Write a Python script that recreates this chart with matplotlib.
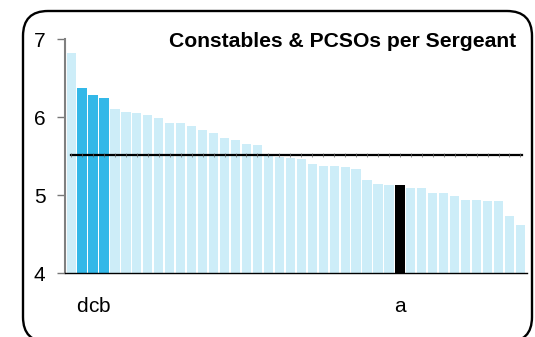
import matplotlib.pyplot as plt
from matplotlib.patches import FancyBboxPatch

plt.rcParams['font.family'] = ['Liberation Sans', 'DejaVu Sans']

# Constables & PCSOs per sergeant, sorted by force
values = [6.82, 6.37, 6.28, 6.24, 6.11, 6.06, 6.05, 6.03, 5.99, 5.93,
          5.92, 5.89, 5.84, 5.80, 5.73, 5.71, 5.65, 5.64, 5.51, 5.49,
          5.48, 5.46, 5.40, 5.37, 5.37, 5.36, 5.33, 5.20, 5.14, 5.13,
          5.13, 5.09, 5.09, 5.03, 5.03, 4.99, 4.94, 4.94, 4.92, 4.92,
          4.73, 4.62]
highlight = {1: 'd', 2: 'c', 3: 'b'}   # comparison forces
own_force = {30: 'a'}                  # our force
average = 5.52

light = '#cdedf8'
mid = '#33b8e8'

colors = []
for i in range(len(values)):
    if i in highlight:
        colors.append(mid)
    elif i in own_force:
        colors.append('black')
    else:
        colors.append(light)

fig = plt.figure(figsize=(5.35, 3.37), dpi=100)
ax = fig.add_axes([0.1215, 0.189, 0.8636, 0.695])

x = list(range(len(values)))
ax.bar(x, values, width=0.84, color=colors, zorder=2)
ax.plot([x[0], x[-1] + 0.1], [average, average], color='black', lw=1.6, zorder=3)
ax.plot(x, [average] * len(x), ls='none', marker='|', ms=2.5, mew=0.5,
        color='#666666', zorder=4)

ax.set_xlim(-0.56, 41.6)
ax.set_ylim(4, 7)
ax.set_yticks([4, 5, 6, 7])
ax.tick_params(axis='y', labelsize=15, length=6, width=1, color='#777777', pad=8)

tick_pos = list(highlight.keys()) + list(own_force.keys())
tick_lab = list(highlight.values()) + list(own_force.values())
ax.set_xticks(tick_pos)
ax.set_xticklabels(tick_lab)
ax.tick_params(axis='x', labelsize=15, length=0, pad=17)

for s in ['top', 'right']:
    ax.spines[s].set_visible(False)
ax.spines['left'].set_color('#808080')
ax.spines['left'].set_linewidth(1.5)
ax.spines['bottom'].set_color('black')
ax.spines['bottom'].set_linewidth(1)

fig.text(0.9645, 0.86, 'Constables & PCSOs per Sergeant', ha='right', va='baseline',
         fontsize=15.2, fontweight='bold')

# rounded frame, bottom edge sits just below the image
frame = FancyBboxPatch((0.23, -0.05), 5.09, 3.31, boxstyle='round,pad=0,rounding_size=0.25',
                       transform=fig.dpi_scale_trans, fill=False, lw=1.7,
                       edgecolor='black', clip_on=False)
fig.patches.append(frame)

fig.savefig('out.png', dpi=100)
